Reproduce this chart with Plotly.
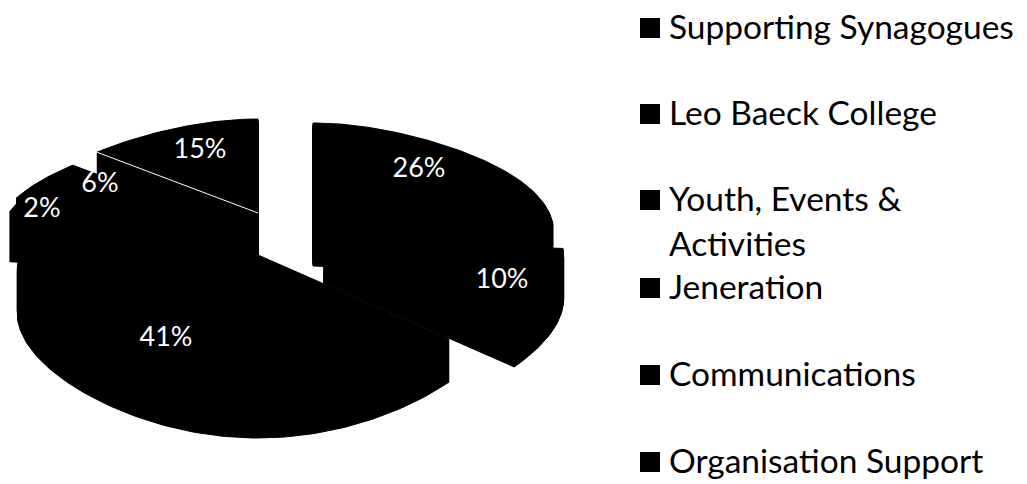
import numpy as np
import plotly.graph_objects as go

categories = ["Supporting Synagogues", "Leo Baeck College", "Youth, Events &\nActivities",
              "Jeneration", "Communications", "Organisation Support"]
values = [26, 10, 41, 2, 6, 15]
colors = ["#000000"] * 6

# layout of the exploded, tilted pie (pixel space of the picture)
tip_x = [313, 323, 258, 240, 234, 258]
tip_y = [217, 241, 255, 226, 226, 213]
depth = [49, 42, 43, 50, 42, 52]
label_x = [419, 502, 166, 42, 100, 200]
label_y = [170, 281, 339, 210, 185, 151]
legend_rows = [28, 114, 200, 288, 375, 462]
second_line_gap = 45
text_shift = 3
FONT = "Lato"


def rim(theta):
    """Tilted-circle projection: theta is clockwise from the top, in radians."""
    u, v = np.sin(theta), -np.cos(theta)
    width = 238 + 42 * v - 41 * v ** 2
    return u * width, 117 * v + 23 * v ** 2


fig = go.Figure()
shares = np.array(values) / sum(values) * 2 * np.pi
starts = np.concatenate([[0], np.cumsum(shares)[:-1]])
draw_order = [5, 4, 3, 0, 1, 2]
for i in draw_order:
    th = np.linspace(starts[i], starts[i] + shares[i], max(8, int(values[i] * 3)))
    dx, dy = rim(th)
    wx = np.concatenate([[tip_x[i]], tip_x[i] + dx, [tip_x[i]]])
    wy = np.concatenate([[tip_y[i]], tip_y[i] + dy, [tip_y[i]]])
    xs, ys = [], []
    for d in range(depth[i], -1, -1):
        xs += list(wx) + [None]
        ys += list(wy + d) + [None]
    fig.add_trace(go.Scatter(x=xs, y=ys, mode="lines", fill="toself", fillcolor=colors[i],
                             line=dict(color=colors[i], width=1), hoverinfo="skip",
                             name=categories[i].replace("\n", " "), showlegend=False))

# white hairline on the near edge of the last slice
edge_dx, edge_dy = rim(np.array([starts[5]]))
fig.add_trace(go.Scatter(x=[tip_x[5], tip_x[5] + edge_dx[0]], y=[tip_y[5], tip_y[5] + edge_dy[0]],
                         mode="lines", line=dict(color="white", width=1), hoverinfo="skip",
                         showlegend=False))

# percentage labels
fig.add_trace(go.Scatter(x=label_x, y=label_y, mode="text", text=[f"{v}%" for v in values],
                         textposition="middle center",
                         textfont=dict(family=FONT, size=27, color="white"),
                         hoverinfo="skip", showlegend=False))

# legend column
fig.add_trace(go.Scatter(x=[650] * len(legend_rows), y=legend_rows, mode="markers",
                         marker=dict(symbol="square", size=20, color=colors, line=dict(width=0)),
                         hoverinfo="skip", showlegend=False))
text_y, text_s = [], []
for row, name in zip(legend_rows, categories):
    for k, line in enumerate(name.split("\n")):
        text_y.append(row + k * second_line_gap + text_shift)
        text_s.append(line)
fig.add_trace(go.Scatter(x=[669] * len(text_s), y=text_y, mode="text", text=text_s,
                         textposition="middle right", cliponaxis=False,
                         textfont=dict(family=FONT, size=33.5, color="black"),
                         hoverinfo="skip", showlegend=False))

fig.update_layout(width=1019, height=476, margin=dict(l=0, r=0, t=0, b=0),
                  paper_bgcolor="white", plot_bgcolor="white", showlegend=False,
                  xaxis=dict(range=[8, 1027], visible=False, fixedrange=True),
                  yaxis=dict(range=[484, 8], visible=False, fixedrange=True))
fig.write_html("out.html", config={"displayModeBar": False})
